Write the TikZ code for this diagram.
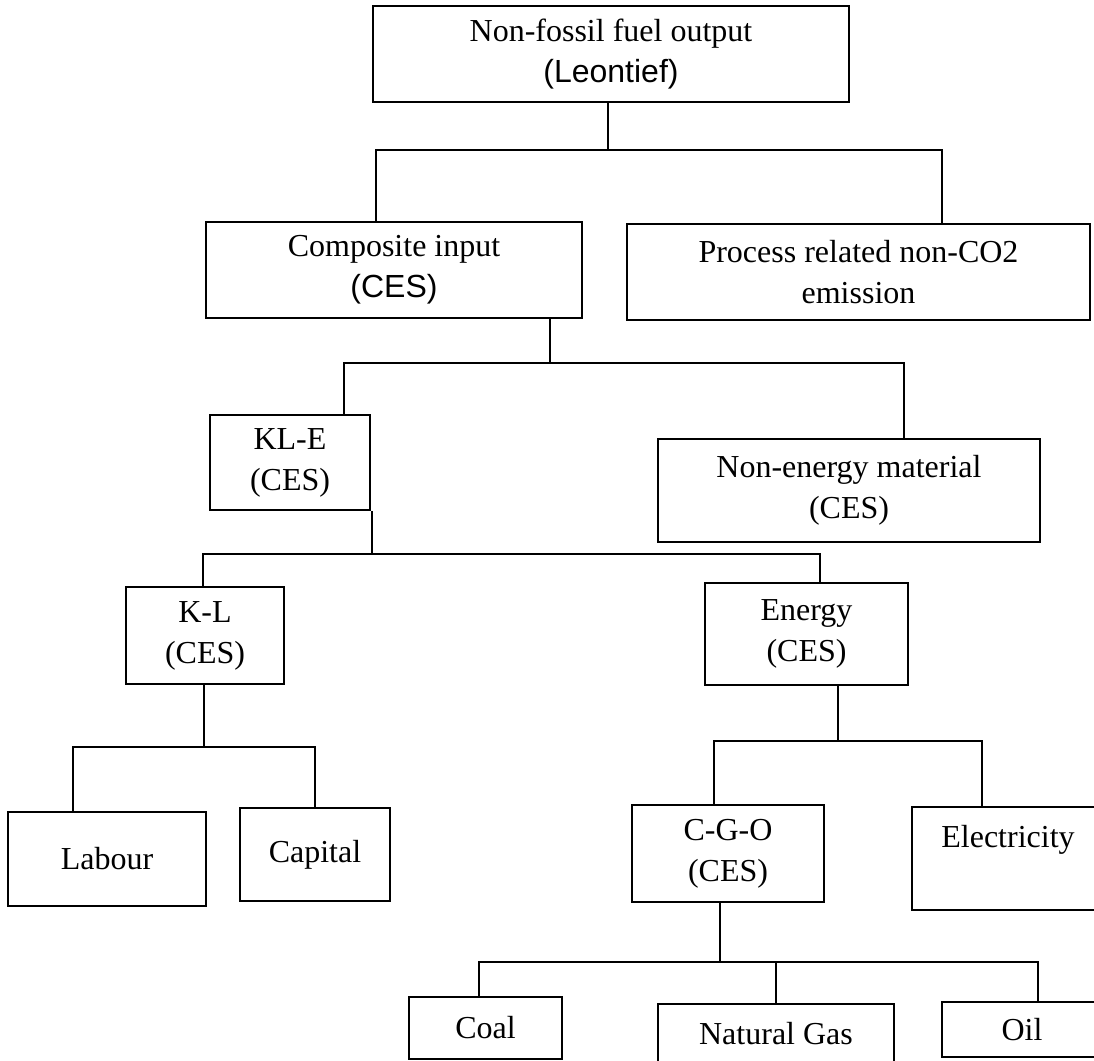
\documentclass[tikz,border=0pt]{standalone}
\usepackage{fontspec}
\setmainfont{Liberation Serif}
\newfontfamily\arialfont{Liberation Sans}
\usepackage{tikz}
\tikzset{
  sector/.style={
    draw,
    rectangle,
    align=center,
    inner sep=0pt,
    font=\fontsize{16}{20.5}\selectfont
  },
  top aligned/.style={
    text height=11pt,
    text depth=22.5pt
  }
}

\begin{document}
\begin{tikzpicture}[x=0.5pt, y=-0.5pt, line width=1pt]
 \useasboundingbox (0,0) rectangle (1094,1061);
 \clip (0,0) rectangle (1094,1061);
 \node[sector, minimum width=238pt, minimum height=48pt] (output) at (611,54) {Non-fossil fuel output\\\arialfont (Leontief)};
 \node[sector, minimum width=188pt, minimum height=48pt] (comp) at (394,270) {Composite input\\\arialfont (CES)};
 \node[sector, minimum width=231.5pt, minimum height=48pt] (proc) at (858.5,272) {Process related non-CO2\\emission};
 \node[sector, minimum width=80pt, minimum height=47.5pt] (kle) at (290,462.5) {KL-E\\(CES)};
 \node[sector, minimum width=191pt, minimum height=51.5pt] (nonen) at (849,490.5) {Non-energy material\\(CES)};
 \node[sector, minimum width=79pt, minimum height=48.5pt] (kl) at (205,635.5) {K-L\\(CES)};
 \node[sector, minimum width=101.5pt, minimum height=51pt] (energy) at (806.5,634) {Energy\\(CES)};
 \node[sector, minimum width=99pt, minimum height=47pt] (labour) at (107,859) {Labour};
 \node[sector, minimum width=75pt, minimum height=46.5pt] (capital) at (315,854.5) {Capital};
 \node[sector, minimum width=96pt, minimum height=48.5pt] (cgo) at (728,853.5) {C-G-O\\(CES)};
 \node[sector, top aligned, minimum width=96pt, minimum height=51.5pt] (elec) at (1008,858.5) {Electricity};
 \node[sector, minimum width=76.5pt, minimum height=31pt] (coal) at (485.5,1028) {Coal};
 \node[sector, minimum width=118pt, minimum height=30pt] (gas) at (776,1034) {Natural Gas};
 \node[sector, minimum width=80pt, minimum height=27.5pt] (oil) at (1022,1029.5) {Oil};

 % bars
 \coordinate (out-m) at (608,150);
 \coordinate (out-l) at (376,150);
 \coordinate (out-r) at (942,150);
 \coordinate (comp-m) at (550,363);
 \coordinate (comp-l) at (344,363);
 \coordinate (comp-r) at (904,363);
 \coordinate (kle-m) at (372,554);
 \coordinate (kle-l) at (203,554);
 \coordinate (kle-r) at (820,554);
 \coordinate (kl-m) at (204,747);
 \coordinate (kl-l) at (73,747);
 \coordinate (kl-r) at (315,747);
 \coordinate (en-m) at (838,741);
 \coordinate (en-l) at (714,741);
 \coordinate (en-r) at (982,741);
 \coordinate (cgo-m) at (720,962);
 \coordinate (cgo-l) at (479,962);
 \coordinate (cgo-c) at (776,962);
 \coordinate (cgo-r) at (1038,962);

 \draw (output.south -| out-m) -- (out-m);
 \draw (comp.north -| out-l) -- (out-l) -- (out-r) -- (proc.north -| out-r);
 \draw (comp.south -| comp-m) -- (comp-m);
 \draw (kle.north -| comp-l) -- (comp-l) -- (comp-r) -- (nonen.north -| comp-r);
 \draw (kle.south -| kle-m) -- (kle-m);
 \draw (kl.north -| kle-l) -- (kle-l) -- (kle-r) -- (energy.north -| kle-r);
 \draw (kl.south -| kl-m) -- (kl-m);
 \draw (labour.north -| kl-l) -- (kl-l) -- (kl-r) -- (capital.north -| kl-r);
 \draw (energy.south -| en-m) -- (en-m);
 \draw (cgo.north -| en-l) -- (en-l) -- (en-r) -- (elec.north -| en-r);
 \draw (cgo.south -| cgo-m) -- (cgo-m);
 \draw (coal.north -| cgo-l) -- (cgo-l) -- (cgo-r) -- (oil.north -| cgo-r);
 \draw (gas.north -| cgo-c) -- (cgo-c);
\end{tikzpicture}
\end{document}
